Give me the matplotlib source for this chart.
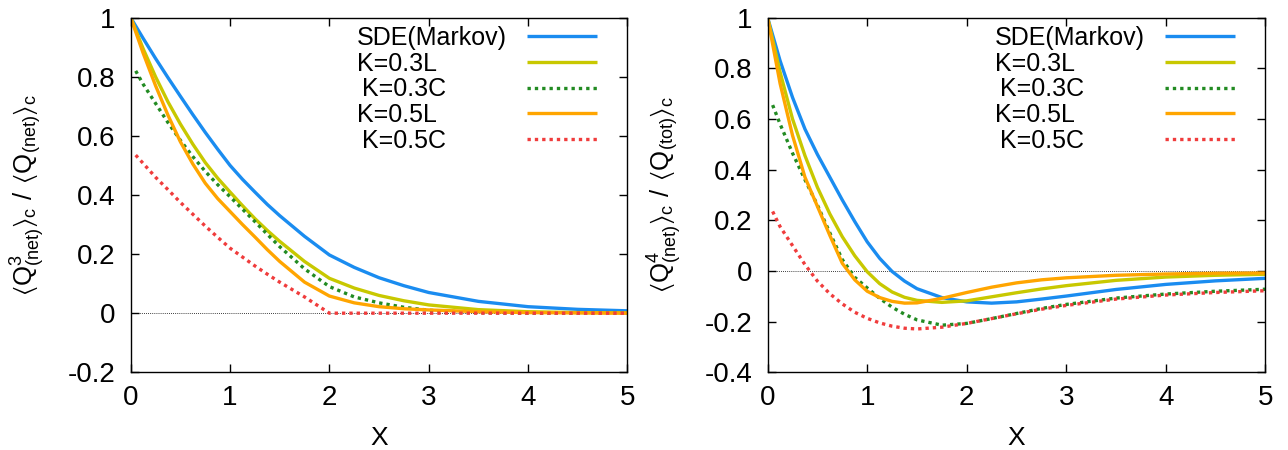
import numpy as np
import matplotlib
matplotlib.use("Agg")
import matplotlib.pyplot as plt
from matplotlib.lines import Line2D

plt.rcParams['font.family'] = ['Liberation Sans', 'DejaVu Sans']
plt.rcParams['mathtext.fontset'] = 'custom'
plt.rcParams['mathtext.rm'] = 'Liberation Sans'
plt.rcParams['mathtext.default'] = 'regular'
plt.rcParams['axes.unicode_minus'] = False

# sample points (x) for the L curves and for the C curves (start slightly above 0)
x_l = [0, 0.125, 0.25, 0.375, 0.5, 0.625, 0.75, 0.875, 1, 1.125, 1.25, 1.375, 1.5,
       1.75, 2, 2.25, 2.5, 2.75, 3, 3.5, 4, 4.5, 5]
x_c = [0.05, 0.125, 0.25, 0.375, 0.5, 0.625, 0.75, 0.875, 1, 1.125, 1.25, 1.375, 1.5,
       1.75, 2, 2.25, 2.5, 2.75, 3, 3.5, 4, 4.5, 5]

# third cumulant ratio
q3_sde = [1, 0.93, 0.862, 0.797, 0.734, 0.672, 0.612, 0.555, 0.50, 0.453, 0.41, 0.368, 0.33,
          0.26, 0.197, 0.155, 0.12, 0.093, 0.07, 0.04, 0.022, 0.013, 0.008]
q3_k03l = [1, 0.895, 0.80, 0.715, 0.64, 0.572, 0.51, 0.457, 0.41, 0.364, 0.32, 0.28, 0.243,
           0.175, 0.118, 0.085, 0.06, 0.042, 0.028, 0.012, 0.005, 0.002, 0.001]
q3_k03c = [0.82, 0.775, 0.71, 0.645, 0.585, 0.53, 0.48, 0.435, 0.394, 0.352, 0.31, 0.267, 0.225,
           0.15, 0.09, 0.055, 0.035, 0.02, 0.01, 0.002, 0.0, 0.0, 0.0]
q3_k05l = [1, 0.88, 0.77, 0.67, 0.58, 0.505, 0.44, 0.388, 0.344, 0.30, 0.258, 0.215, 0.175,
           0.105, 0.058, 0.035, 0.022, 0.015, 0.011, 0.005, 0.002, 0.001, 0.0]
q3_k05c = [0.535, 0.507, 0.46, 0.418, 0.375, 0.335, 0.295, 0.257, 0.22, 0.19, 0.16, 0.132, 0.105,
           0.055, 0.0, 0.0, 0.0, 0.0, 0.0, 0.0, 0.0, 0.0, 0.0]

# fourth cumulant ratio
q4_sde = [1, 0.83, 0.685, 0.56, 0.46, 0.37, 0.28, 0.195, 0.115, 0.05, -0.002, -0.04, -0.07,
          -0.105, -0.122, -0.127, -0.122, -0.111, -0.099, -0.073, -0.053, -0.039, -0.029]
q4_k03l = [1, 0.785, 0.60, 0.455, 0.33, 0.225, 0.135, 0.06, -0.003, -0.05, -0.083, -0.104, -0.116,
           -0.124, -0.118, -0.102, -0.086, -0.071, -0.058, -0.037, -0.024, -0.017, -0.013]
q4_k03c = [0.655, 0.58, 0.465, 0.36, 0.26, 0.15, 0.045, -0.025, -0.067, -0.108, -0.143, -0.171, -0.193,
           -0.214, -0.207, -0.188, -0.168, -0.148, -0.132, -0.107, -0.091, -0.08, -0.072]
q4_k05l = [1, 0.74, 0.535, 0.37, 0.255, 0.14, 0.03, -0.035, -0.08, -0.105, -0.12, -0.127, -0.126,
           -0.108, -0.085, -0.064, -0.047, -0.035, -0.027, -0.017, -0.012, -0.009, -0.008]
q4_k05c = [0.235, 0.175, 0.10, 0.025, -0.04, -0.09, -0.13, -0.163, -0.187, -0.205, -0.218, -0.226, -0.229,
           -0.222, -0.207, -0.188, -0.169, -0.151, -0.136, -0.111, -0.095, -0.085, -0.078]

labels = ['SDE(Markov)', 'K=0.3L', '\u2009K=0.3C', 'K=0.5L', '\u2009K=0.5C']
colors = ['#1a8cf0', '#c8c800', '#228b22', '#ffa500', '#f03c3c']
dotted = (0, (1, 1.2))

fig = plt.figure(figsize=(12.88, 4.5), dpi=100)
ax1 = fig.add_axes([0.1015, 0.1727, 0.3856, 0.788])
ax2 = fig.add_axes([0.596, 0.1727, 0.3865, 0.788])


def draw(ax, series, ylim, yticks, ylabel):
    ax.axhline(0, color='black', lw=0.6, ls=(0, (1, 1.5)), zorder=1)
    lines = []
    for (xs, ys), lab, col in zip(series, labels, colors):
        ls = dotted if lab.endswith('C') else '-'
        ln, = ax.plot(xs, ys, color=col, lw=2.4, ls=ls, solid_capstyle='butt',
                      dash_capstyle='butt', zorder=2)
        lines.append(ln)
    ax.set_xlim(0, 5)
    ax.set_ylim(*ylim)
    ax.set_xticks(range(6))
    ax.set_yticks(yticks)
    ax.set_yticklabels(['%g' % round(t, 1) for t in yticks])
    ax.tick_params(direction='in', top=True, right=True, length=6, width=1,
                   labelsize=20)
    ax.tick_params(axis='y', pad=11)
    ax.tick_params(axis='x', pad=9)
    for s in ax.spines.values():
        s.set_linewidth(1.0)
    ax.set_xlabel('X', fontsize=19)
    ax.xaxis.set_label_coords(0.5, -0.185)
    ax.xaxis.label.set_verticalalignment('center')
    ax.set_ylabel(ylabel, fontsize=18.5)
    ax.yaxis.set_label_coords(-0.207, 0.5)
    ax.yaxis.label.set_verticalalignment('center')

    # key: line samples on the right, left-aligned names in their own column
    opts = dict(frameon=False, fontsize=18, labelspacing=0.07, borderaxespad=0,
                borderpad=0, handletextpad=0)
    samples = ax.legend(lines, [' '] * len(lines), loc='upper right',
                        bbox_to_anchor=(0.939, 0.9766), markerfirst=False,
                        handlelength=2.8, **opts)
    ax.add_artist(samples)
    blank = [Line2D([], [], lw=0) for _ in lines]
    ax.legend(blank, labels, loc='upper left', bbox_to_anchor=(0.4557, 0.9766),
              handlelength=0, **opts)


draw(ax1, [(x_l, q3_sde), (x_l, q3_k03l), (x_c, q3_k03c), (x_l, q3_k05l), (x_c, q3_k05c)],
     (-0.2, 1.0), np.arange(-0.2, 1.01, 0.2),
     r'$\langle Q^{3}_{(net)}\rangle_c\ /\ \langle Q_{(net)}\rangle_c$')
draw(ax2, [(x_l, q4_sde), (x_l, q4_k03l), (x_c, q4_k03c), (x_l, q4_k05l), (x_c, q4_k05c)],
     (-0.4, 1.0), np.arange(-0.4, 1.01, 0.2),
     r'$\langle Q^{4}_{(net)}\rangle_c\ /\ \langle Q_{(tot)}\rangle_c$')

fig.savefig('out.png', dpi=100)
